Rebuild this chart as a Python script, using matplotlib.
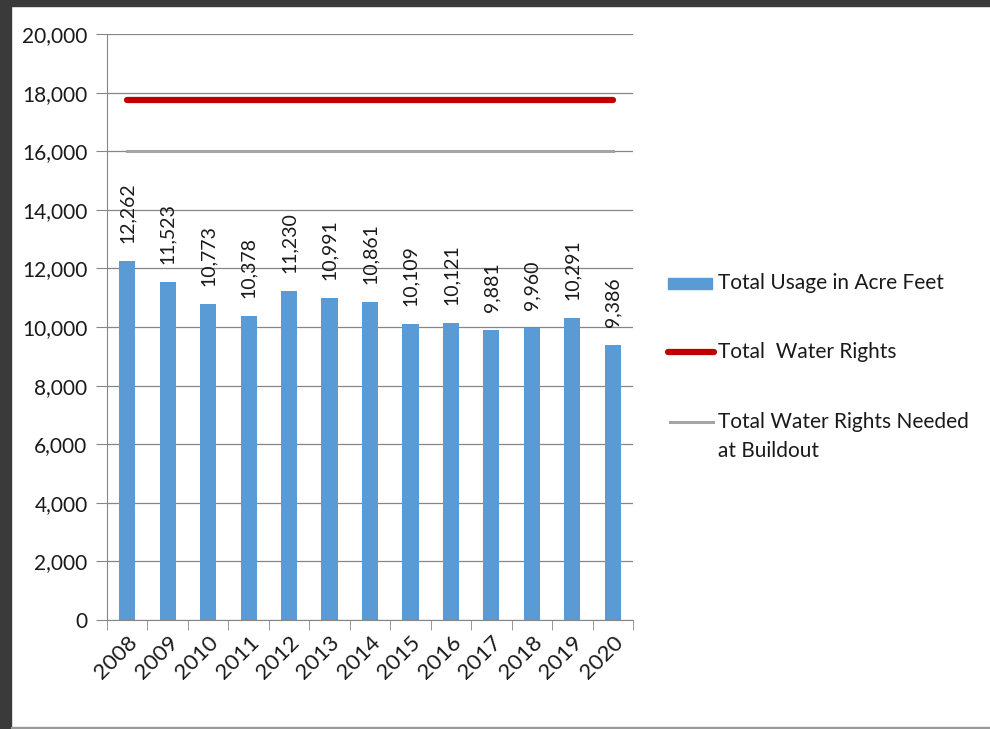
import matplotlib.pyplot as plt
from matplotlib.patches import Rectangle
from matplotlib.lines import Line2D
import numpy as np

plt.rcParams['font.family'] = ['Lato', 'DejaVu Sans']

years = ['2008', '2009', '2010', '2011', '2012', '2013', '2014',
         '2015', '2016', '2017', '2018', '2019', '2020']
usage = [12262, 11523, 10773, 10378, 11230, 10991, 10861,
         10109, 10121, 9881, 9960, 10291, 9386]
water_rights = [17760] * len(years)
needed_buildout = [16000] * len(years)

BLUE = '#5B9BD5'
RED = '#C00000'
GREY = '#A5A5A5'
TXT = '#1a1a1a'

fig = plt.figure(figsize=(9.9, 7.29), dpi=100)


def px(x0, y0):
    # pixel coords (top-left origin) -> figure fraction
    return x0 / 990, 1 - y0 / 729


# dark frame around the slide
fig.patches.append(Rectangle((0, 0), 11 / 990, 1, transform=fig.transFigure,
                             color='#3a3a3a', zorder=0))
fig.patches.append(Rectangle((0, 1 - 6 / 729), 1, 6 / 729, transform=fig.transFigure,
                             color='#3a3a3a', zorder=0))
fig.patches.append(Rectangle((11 / 990, 1 / 729), 1, 1 / 729, transform=fig.transFigure,
                             color='#9a9a9a', zorder=0))

ax = fig.add_axes([107 / 990, 1 - 620 / 729, 526 / 990, 586 / 729])
x = np.arange(len(years))

ax.bar(x, usage, width=0.4, color=BLUE, zorder=2)
ax.plot(x, water_rights, color=RED, lw=4.5, solid_capstyle='round', zorder=3)
ax.plot(x, needed_buildout, color=GREY, lw=2.2, zorder=3)

for xi, v in zip(x, usage):
    ax.text(xi, v + 620, f'{v:,}', rotation=90, ha='center', va='bottom',
            fontsize=14, color=TXT)

ax.set_xlim(-0.5, len(years) - 0.5)
ax.set_ylim(0, 20000)
ax.set_yticks(np.arange(0, 20001, 2000))
ax.set_yticklabels([f'{t:,}' for t in range(0, 20001, 2000)], fontsize=15, color=TXT)
ax.set_xticks(x)
ax.set_xticklabels(years, rotation=45, ha='right', rotation_mode='anchor',
                   fontsize=16, color=TXT)
ax.tick_params(axis='x', length=0, pad=9)
ax.set_xticks(np.arange(-0.5, len(years), 1), minor=True)
ax.tick_params(axis='x', which='minor', length=7, color='#868686')
ax.tick_params(axis='y', length=8, color='#868686', pad=6)

ax.grid(axis='y', color='#868686', lw=0.9, zorder=0)
ax.set_axisbelow(True)
for side in ['top', 'right']:
    ax.spines[side].set_visible(False)
ax.spines['left'].set_color('#868686')
ax.spines['bottom'].set_color('#868686')

# legend, laid out by hand
bx, by = px(668, 289)
fig.patches.append(Rectangle((bx, by), 44 / 990, 11 / 729, transform=fig.transFigure,
                             color=BLUE))
fig.lines.append(Line2D([668 / 990, 714 / 990], [1 - 352 / 729] * 2,
                        transform=fig.transFigure, color=RED, lw=4.5,
                        solid_capstyle='round'))
fig.lines.append(Line2D([670 / 990, 713 / 990], [1 - 422 / 729] * 2,
                        transform=fig.transFigure, color=GREY, lw=2.2))
legend_text = [('Total Usage in Acre Feet', 283),
               ('Total  Water Rights', 352),
               ('Total Water Rights Needed', 422),
               ('at Buildout', 451)]
for s, yy in legend_text:
    fig.text(718 / 990, 1 - yy / 729, s, ha='left', va='center',
             fontsize=15, color=TXT)

fig.savefig('out.png', dpi=100, facecolor='white')
